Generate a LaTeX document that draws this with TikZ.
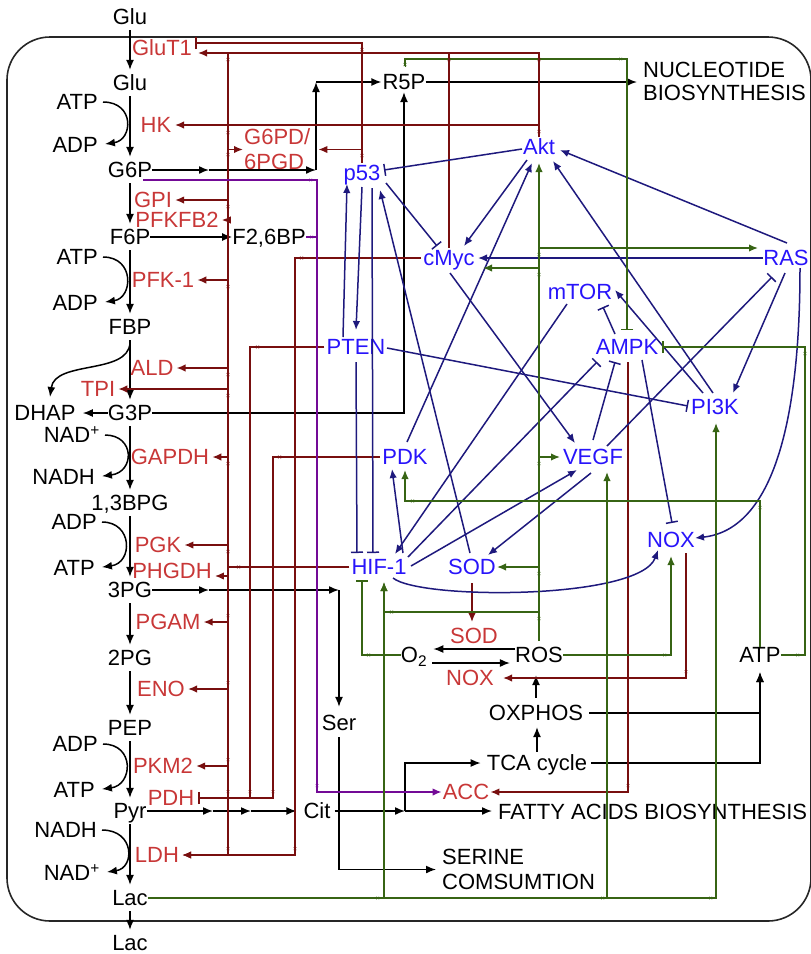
\documentclass[tikz,border=0pt]{standalone}
\usepackage{fontspec}
\setmainfont{Liberation Sans}
\usetikzlibrary{arrows.meta,calc}
\definecolor{enzred}{RGB}{200,55,55}
\definecolor{linered}{RGB}{120,15,15}
\definecolor{regblue}{RGB}{40,20,250}
\definecolor{lineblue}{RGB}{30,25,125}
\definecolor{linegreen}{RGB}{55,100,20}
\definecolor{linepurple}{RGB}{115,10,150}
\tikzset{jmk/.pic={\draw[line width=0.8pt,-{Latex[length=2.5pt,width=3.5pt]Latex[length=2.5pt,width=3.5pt]}] (-3,0) -- (3,0);}}
\newcommand{\jmark}[3]{\pic[#1,rotate=#2] at (#3) {jmk};}
\begin{document}
\begin{tikzpicture}[x=1pt,y=-1pt,
  font=\fontsize{22}{25}\selectfont,
  met/.style={inner sep=0pt,text height=15.8pt,text depth=0pt},
  enz/.style={met,text=enzred},
  reg/.style={met,inner sep=2pt,text=regblue},
  lbl/.style={inner sep=0pt,align=left,anchor=west},
  flux/.style={line width=1.5pt,-{Latex[length=10pt,width=8pt]}},
  mainflux/.style={flux,shorten <=5pt,shorten >=5pt},
  cof/.style={flux,shorten <=5pt,shorten >=7pt},
  rl/.style={line width=1.5pt,draw=linered},
  bl/.style={line width=1.5pt,draw=lineblue},
  gl/.style={line width=1.5pt,draw=linegreen},
  pl/.style={line width=1.5pt,draw=linepurple},
  act/.style={-{Latex[length=9pt,width=7.5pt]}},
  inh/.style={-{Bar[width=12pt,line width=1.5pt]}},
  cellwall/.style={line width=1.6pt,draw=black!85,rounded corners=43pt}
]
\useasboundingbox (0,0) rectangle (811,954);
% cell
\draw[cellwall] (7,37) rectangle (811,921);

% glycolysis
\node[met] (glu0) at (130,17) {Glu};
\node[met] (glu) at (130,83) {Glu};
\node[met] (g6p) at (130,170) {G6P};
\node[met] (f6p) at (130,237) {F6P};
\node[met] (fbp) at (130,327) {FBP};
\node[met] (g3p) at (130,413) {G3P};
\node[met] (bpg) at (130,503) {1,3BPG};
\node[met] (pg3) at (130,590) {3PG};
\node[met] (pg2) at (130,658) {2PG};
\node[met] (pep) at (130,728) {PEP};
\node[met] (pyr) at (130,811) {Pyr};
\node[met] (lac) at (130,898) {Lac};
\node[met] (lac0) at (130,943) {Lac};
\node[met] (dhap) at (45,413) {DHAP};
\node[met] (f26bp) at (269,237) {F2,6BP};
\node[met] (r5p) at (404,82) {R5P};
\node[lbl] (nuc) at (643,81.5) {NUCLEOTIDE\\[-2pt]BIOSYNTHESIS};

% cofactors
\node[met,anchor=east] (atpA) at (98,102) {ATP};
\node[met,anchor=east] (adpA) at (98,145) {ADP};
\node[met,anchor=east] (atpB) at (98,257) {ATP};
\node[met,anchor=east] (adpB) at (98,303) {ADP};
\node[met,anchor=east] (nadA) at (100,435) {NAD\textsuperscript{+}};
\node[met,anchor=east] (nadhA) at (95,477) {NADH};
\node[met,anchor=east] (adpC) at (97,522) {ADP};
\node[met,anchor=east] (atpC) at (95,568) {ATP};
\node[met,anchor=east] (adpD) at (98,744) {ADP};
\node[met,anchor=east] (atpD) at (95,790) {ATP};
\node[met,anchor=east] (nadhB) at (97,830) {NADH};
\node[met,anchor=east] (nadB) at (100,873) {NAD\textsuperscript{+}};

% enzymes
\node[enz] (glut1) at (162,48) {GluT1};
\node[enz] (hk) at (156,125) {HK};
\node[lbl,text=enzred] (g6pd) at (244,149.5) {G6PD/\\6PGD};
\node[enz] (gpi) at (153,200) {GPI};
\node[enz] (pfkfb2) at (177,220) {PFKFB2};
\node[enz] (pfk1) at (163,280) {PFK-1};
\node[enz] (ald) at (152,368) {ALD};
\node[enz] (tpi) at (98,389) {TPI};
\node[enz] (gapdh) at (170,457) {GAPDH};
\node[enz] (pgk) at (158,545) {PGK};
\node[enz] (phgdh) at (172,571) {PHGDH};
\node[enz] (pgam) at (168,622) {PGAM};
\node[enz] (eno) at (161,689) {ENO};
\node[enz] (pkm2) at (163,766) {PKM2};
\node[enz] (pdh) at (171,798) {PDH};
\node[enz] (ldh) at (157,855) {LDH};
\node[enz] (sodr) at (474,636) {SOD};
\node[enz] (noxr) at (470,678) {NOX};
\node[enz] (acc) at (466,792) {ACC};

% other metabolites
\node[met] (ser) at (339,723) {Ser};
\node[met] (cit) at (317,811) {Cit};
\node[met] (o2) at (414,655) {O\textsubscript{2}};
\node[met] (ros) at (539,655) {ROS};
\node[met] (oxphos) at (536,713) {OXPHOS};
\node[met] (tca) at (537,763) {TCA cycle};
\node[met] (atp2) at (760,655) {ATP};
\node[met,anchor=west] (fab) at (498,812) {FATTY ACIDS BIOSYNTHESIS};
\node[lbl] (serc) at (442,869.5) {SERINE\\COMSUMTION};

% regulators
\node[reg] (p53) at (362,173) {p53};
\node[reg] (akt) at (539,147) {Akt};
\node[reg] (cmyc) at (449,258) {cMyc};
\node[reg] (ras) at (786,258) {RAS};
\node[reg] (mtor) at (580,292) {mTOR};
\node[reg] (pten) at (356,347) {PTEN};
\node[reg] (ampk) at (627,347) {AMPK};
\node[reg] (pi3k) at (715,407) {PI3K};
\node[reg] (pdk) at (405,457) {PDK};
\node[reg] (vegf) at (593,457) {VEGF};
\node[reg] (nox) at (671,540) {NOX};
\node[reg] (hif) at (379,567) {HIF-1};
\node[reg] (sod) at (472,567) {SOD};

% main chain
\draw[mainflux] (glu0) -- (glu);
\draw[mainflux] (glu) -- (g6p);
\draw[mainflux] (g6p) -- (f6p);
\draw[mainflux] (f6p) -- (fbp);
\draw[mainflux] (fbp) -- (g3p);
\draw[mainflux] (g3p) -- (bpg);
\draw[mainflux] (bpg) -- (pg3);
\draw[mainflux] (pg3) -- (pg2);
\draw[mainflux] (pg2) -- (pep);
\draw[mainflux] (pep) -- (pyr);
\draw[mainflux] (pyr) -- (lac);
\draw[mainflux] (lac) -- (lac0);
\draw[flux,shorten >=7pt] (g3p.west) -- (dhap.east);
\draw[flux] ($(fbp)+(0,16)$) .. controls ($(fbp)+(-2,48)$) and ($(dhap)+(10,-53)$) .. ($(dhap)+(5,-16)$);

\draw[cof] (atpA.east) .. controls +(37,0) and +(35,-5) .. (adpA.east);
\draw[cof] (atpB.east) .. controls +(37,0) and +(35,-5) .. (adpB.east);
\draw[cof] (nadA.east) .. controls +(35,0) and +(40,-5) .. (nadhA.east);
\draw[cof] (adpC.east) .. controls +(36,0) and +(38,-5) .. (atpC.east);
\draw[cof] (adpD.east) .. controls +(37,0) and +(38,-5) .. (atpD.east);
\draw[cof] (nadhB.east) .. controls +(38,0) and +(35,-5) .. (nadB.east);

% side branches
\coordinate (k1) at (209,170);
\coordinate (k2) at (316,170);
\coordinate (k3) at (316,82);
\draw[flux] (g6p.east) -- (k1);
\draw[flux] (k1) -- (k2);
\draw[flux] (k2) -- (k3);
\draw[flux,shorten >=1pt] (k3) -- (r5p.west);
\draw[flux] (f6p.east) -- (f26bp.west);
\draw[flux,shorten >=2pt] (g3p.east) -| (r5p.south);
\draw[flux,shorten >=6pt] (r5p.east) -- (r5p.east -| nuc.west);

\coordinate (k4) at (209,590);
\coordinate (k5) at (339,590);
\draw[flux] (pg3.east) -- (k4);
\draw[flux] (k4) -- (k5);
\draw[flux,shorten >=8pt] (k5) -- (ser.north);
\draw[flux,shorten <=6pt,shorten >=6pt] (ser.south) |- (serc.west);

\coordinate (k6) at (213,811);
\coordinate (k7) at (251,811);
\coordinate (k8) at (405,811);
\draw[flux] (pyr.east) -- (k6);
\draw[flux] (k6) -- (k7);
\draw[flux,shorten >=7pt] (k7) -- (cit.west);
\draw[flux,shorten <=4pt] (cit.east) -- (k8);
\draw[flux,shorten >=6pt] (k8) |- (tca.west);
\draw[flux,shorten >=6pt] (k8) -- (k8 -| fab.west);

\draw[flux,shorten <=3pt,shorten >=6pt] (tca.north) -- (tca.north |- oxphos.south);
\draw[flux,shorten <=7pt,shorten >=12pt] (oxphos.north) -- (oxphos.north |- ros.south);
\draw[flux,shorten <=6pt,shorten >=9pt] (oxphos.east) -| (atp2.south);
\draw[flux,shorten <=4pt,shorten >=9pt] (tca.east) -| (atp2.south);
\draw[flux,shorten >=6pt] ([yshift=6pt]ros.west) -- ([yshift=6pt]o2.east);
\draw[flux,shorten <=5pt,shorten >=5pt] ([yshift=-8pt]o2.east) -- ([yshift=-8pt]ros.west);

% transcriptional control (red)
\coordinate (bus) at (228,53);
\coordinate (busend) at (228,855);
\coordinate (x250) at (250,798);
\coordinate (x273) at (273,798);
\coordinate (x295) at (295,855);
\coordinate (n686) at (686,678);
\coordinate (m628) at (628,792);
\draw[rl] (bus) -- (busend);
\draw[rl] (hif.west) -- (hif.west -| bus);
\draw[rl,act] (akt.north) |- ($(glut1)+(36,5)$);
\draw[rl,act] (akt.north |- hk) -- ($(hk)+(19,0)$);
\draw[rl] (cmyc.north) -- (cmyc.north |- bus);
\draw[rl,inh] (p53.north) |- ($(glut1)+(33,-5)$);
\draw[rl,act] (p53.north |- g6pd.east) -- ($(g6pd.east)+(8,0)$);
\draw[rl,act,shorten >=1pt] (g6pd.west -| bus) -- (g6pd.west);
\foreach \e in {gpi,pfkfb2,pfk1,ald,tpi,gapdh,pgk,pgam,eno,pkm2,ldh}
  {\draw[rl,act,shorten >=3pt] (\e.east -| bus) -- (\e.east);}
\draw[rl,act,shorten >=3pt] ($(phgdh.east -| bus)+(0,5)$) -- ($(phgdh.east)+(0,5)$);
\draw[rl] (pten.west) -| (x250);
\draw[rl,inh] (pdk.west) -| (x273) -- ($(pdh.east)+(4,0)$);
\draw[rl,act] (cmyc.west) -| (x295) -- ($(ldh.east)+(3,0)$);
\draw[rl,act] ($(sod)+(0,16)$) -- ($(sodr)+(-2,-14)$);
\draw[rl,act] ($(nox)+(15,13)$) -- (n686) -- ($(noxr.east)+(9,0)$);
\draw[rl,act] ($(ampk)+(1,15)$) -- (m628) -- ($(acc.east)+(1,0)$);

% purple
\coordinate (u1) at (317,180);
\coordinate (u2) at (317,792);
\draw[pl,act] ($(g6p)+(13,10)$) -- (u1) -- (u2) -- ($(acc.west)+(-1,0)$);
\draw[pl] (f26bp.east) -- (f26bp.east -| u1);

% signalling (blue)
\draw[bl,inh] ($(akt)+(-17,2)$) -- ($(p53)+(22,-3)$);
\draw[bl,inh] ($(p53)+(24,10)$) -- ($(cmyc)+(-12,-12)$);
\draw[bl,act] ($(pten)+(-13,-10)$) -- ($(p53)+(-15,11)$);
\draw[bl,act] ($(p53)+(0,14)$) -- ($(pten)+(0,-17)$);
\draw[bl,inh] ($(p53)+(10,15)$) -- ($(hif)+(-6,-14)$);
\draw[bl,inh] ($(pten)+(0,15)$) -- ($(hif)+(-22,-14)$);
\draw[bl,act] ($(sod)+(-2,-14)$) -- ($(p53)+(18,17)$);
\draw[bl,inh] ($(pten)+(31,1)$) -- ($(pi3k)+(-27,-1)$);
\draw[bl,act] ($(akt)+(-12,13)$) -- ($(cmyc)+(15,-12)$);
\draw[bl,act] ($(pdk)+(2,-15)$) -- ($(akt)+(-7,16)$);
\draw[bl,act] ($(pi3k)+(-2,-14)$) -- ($(akt)+(14,14)$);
\draw[bl,act] ($(ras)+(1,-15)$) -- ($(akt)+(21,3)$);
\draw[bl,act] ($(ras)+(-23,0)$) -- ($(cmyc)+(29,0)$);
\draw[bl,act] ($(cmyc)+(1,15)$) -- ($(vegf)+(-18,-14)$);
\draw[bl,act] ($(pi3k)+(-12,-14)$) -- ($(mtor)+(35,-2)$);
\draw[bl,act] ($(ras)+(-1,15)$) -- ($(pi3k)+(18,-14)$);
\draw[bl,act] ($(ras)+(14,10)$) .. controls (800,430) and (770,530) .. ($(nox)+(24,-2)$);
\draw[bl,act] ($(hif)+(14,11)$) .. controls (420,600) and (640,600) .. ($(nox)+(-13,10)$);
\draw[bl,act] ($(mtor)+(-13,12)$) -- ($(hif)+(16,-13)$);
\draw[bl,inh] ($(hif)+(29,-10)$) -- ($(ampk)+(-30,15)$);
\draw[bl,act] ($(hif)+(24,-14)$) -- ($(pdk)+(-13,12)$);
\draw[bl,act] ($(hif)+(32,-1)$) -- ($(vegf)+(-16,13)$);
\draw[bl,act] ($(vegf)+(-2,16)$) -- ($(sod)+(16,-12)$);
\draw[bl,inh] ($(vegf)+(0,-17)$) -- ($(ampk)+(-12,15)$);
\draw[bl,inh] ($(vegf)+(14,-11)$) -- ($(ras)+(-14,19)$);
\draw[bl,inh] ($(ampk)+(-12,-13)$) -- ($(mtor)+(23,15)$);
\draw[bl,inh] ($(ampk)+(15,13)$) -- ($(nox)+(1,-17)$);

% metabolic signals (green)
\coordinate (h612) at (384,612);
\coordinate (a805) at (805,347);
\coordinate (p501) at (405,501);
\coordinate (g2) at (627,59);
\draw[gl,act] ($(ros)+(0,-14)$) -- ($(akt)+(0,16)$);
\draw[gl,act] ($(akt |- ras)+(0,-10)$) -- ($(ras)+(-28,-10)$);
\draw[gl,act] ($(akt |- cmyc)+(0,10)$) -- ($(cmyc)+(34,10)$);
\draw[gl,act] (akt |- vegf) -- ($(vegf)+(-33,0)$);
\draw[gl,act] (akt |- sod) -- ($(sod)+(25,0)$);
\draw[gl,act] (akt |- h612) -| ($(hif)+(5,15)$);
\draw[gl,act] (lac.east) -| ($(hif)+(5,15)$);
\draw[gl,act] (lac.east) -| ($(vegf)+(14,15)$);
\draw[gl,act] (lac.east) -| ($(pi3k)+(1,16)$);
\draw[gl,inh] (o2.west) -| ($(hif)+(-17,13)$);
\draw[gl,act] (ros.east) -| ($(nox)+(0,16)$);
\draw[gl,inh] (atp2.east) -| (a805) -- ($(ampk)+(35,0)$);
\draw[gl,act] (atp2.north) |- (p501) -- ($(pdk)+(0,13)$);
\draw[gl,inh,shorten <=8pt] ($(r5p.north)+(1,0)$) |- (g2) -- ($(ampk)+(0,-17)$);

% junction marks
\foreach \y in {59,132,154,206,286,374,395,463,551} {\jmark{linered}{90}{228,\y}}
\foreach \y in {616,683,760,792,849} {\jmark{linered}{-90}{228,\y}}
\jmark{linered}{180}{238,567}
\jmark{linered}{90}{362,155} \jmark{linered}{90}{362,49}
\jmark{linered}{90}{539,131} \jmark{linered}{90}{539,59}
\jmark{linered}{90}{449,59}
\jmark{linered}{180}{301,258} \jmark{linered}{180}{257,347} \jmark{linered}{180}{279,457}
\jmark{linered}{-90}{250,792} \jmark{linered}{-90}{273,792} \jmark{linered}{-90}{295,849}
\jmark{linered}{-90}{686,672} \jmark{linered}{-90}{628,786}
\jmark{linepurple}{0}{311,180} \jmark{linepurple}{0}{312,237} \jmark{linepurple}{-90}{317,786}
\foreach \y in {254,274,463,573,618} {\jmark{linegreen}{90}{539,\y}}
\jmark{linegreen}{90}{405,64} \jmark{linegreen}{0}{621,59}
\jmark{linegreen}{180}{391,612} \jmark{linegreen}{0}{378,898}
\jmark{linegreen}{0}{603,898} \jmark{linegreen}{0}{711,898}
\jmark{linegreen}{180}{368,655} \jmark{linegreen}{0}{665,655}
\jmark{linegreen}{0}{798,655} \jmark{linegreen}{90}{805,353}
\jmark{linegreen}{180}{412,501} \jmark{linegreen}{90}{760,507}
\end{tikzpicture}
\end{document}
